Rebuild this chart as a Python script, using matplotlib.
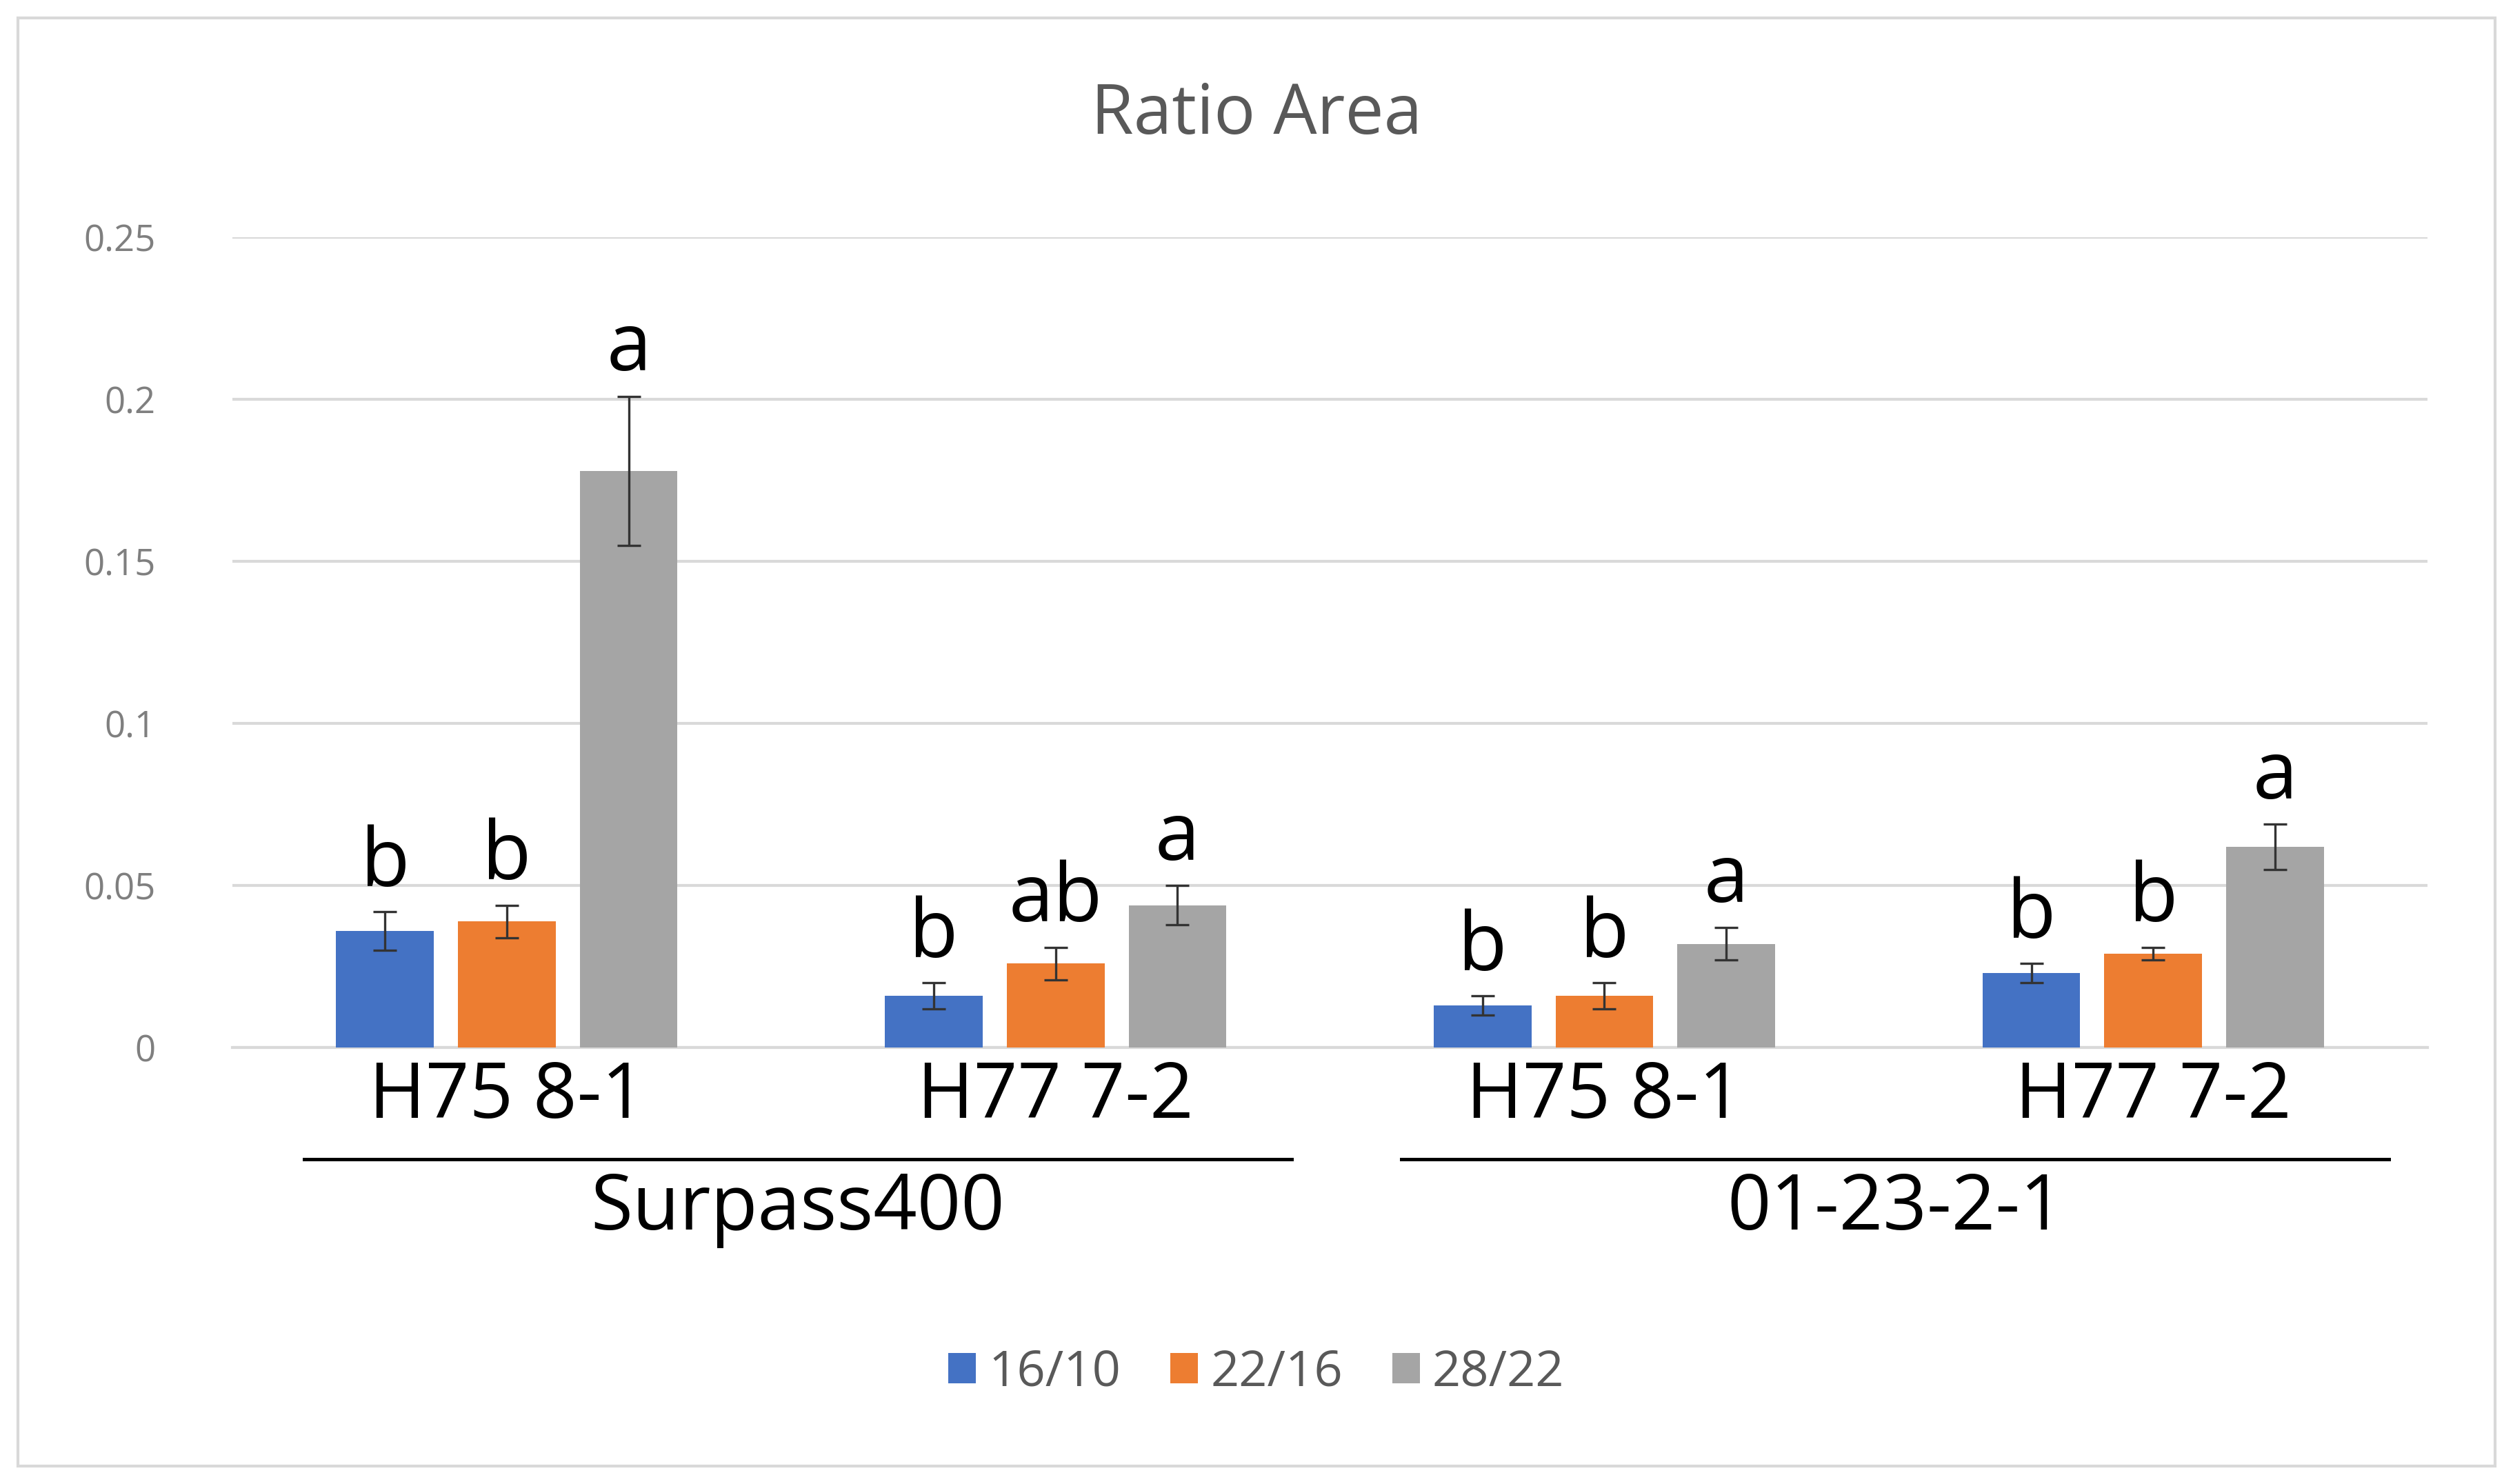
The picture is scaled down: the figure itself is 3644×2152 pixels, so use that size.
import matplotlib
matplotlib.use("Agg")
import matplotlib.pyplot as plt
from matplotlib.patches import Rectangle
import numpy as np

categories = ["H75 8-1", "H77 7-2", "H75 8-1", "H77 7-2"]
groups = ["Surpass400", "01-23-2-1"]
series = ["16/10", "22/16", "28/22"]
values = [
    [0.036, 0.016, 0.013, 0.023],
    [0.039, 0.026, 0.016, 0.029],
    [0.178, 0.044, 0.032, 0.062],
]
errors = [
    [0.006, 0.004, 0.003, 0.003],
    [0.005, 0.005, 0.004, 0.002],
    [0.023, 0.006, 0.005, 0.007],
]
letters = [
    ["b", "b", "b", "b"],
    ["b", "ab", "b", "b"],
    ["a", "a", "a", "a"],
]
colors = ["#4472C4", "#ED7D31", "#A5A5A5"]

plt.rcParams["font.family"] = ["Open Sans", "DejaVu Sans"]
fig = plt.figure(figsize=(18.22, 10.76), dpi=200)
fig.patches.append(Rectangle((0.007, 0.012), 0.986, 0.976, transform=fig.transFigure,
                             fill=False, edgecolor="#D9D9D9", lw=1.5))
ax = fig.add_axes([0.0925, 0.294, 0.8735, 0.546])

x = np.arange(len(categories))
w = 0.178
step = 0.222
for i, (vals, errs, col) in enumerate(zip(values, errors, colors)):
    pos = x + (i - 1) * step
    ax.bar(pos, vals, w, color=col, label=series[i], zorder=3,
           yerr=errs, capsize=6, error_kw=dict(ecolor="#333333", elinewidth=1.2, capthick=1.2))
    for p, v, e, t in zip(pos, vals, errs, letters[i]):
        ax.text(p, v + e + 0.002, t, ha="center", va="bottom", fontsize=42, color="black")

ax.set_xlim(-0.5, 3.5)
ax.set_ylim(0, 0.25)
ax.set_yticks([0, 0.05, 0.1, 0.15, 0.2, 0.25])
ax.set_yticklabels(["0", "0.05", "0.1", "0.15", "0.2", "0.25"])
ax.yaxis.grid(True, color="#D9D9D9", lw=1.5, zorder=0)
for s in ["top", "right", "left"]:
    ax.spines[s].set_visible(False)
ax.spines["bottom"].set_color("#D9D9D9")
ax.spines["bottom"].set_linewidth(1.5)
ax.tick_params(axis="y", length=0, labelsize=19, labelcolor="#7F7F7F", pad=40)
ax.set_xticks(x)
ax.set_xticklabels(categories, fontsize=40)
ax.tick_params(axis="x", length=0, pad=6)

# group labels with underline
for gi, g in enumerate(groups):
    x0 = 2 * gi - 0.5 + 0.13
    x1 = 2 * gi + 1.5 - 0.07
    ax.plot([x0, x1], [-0.0345, -0.0345], color="black", lw=1.8,
            clip_on=False, transform=ax.transData)
    ax.text((x0 + x1) / 2, -0.05, g, ha="center", va="center", fontsize=40)

fig.text(0.5, 0.922, "Ratio Area", ha="center", va="center", fontsize=36, color="#595959")
fig.legend(loc="center", bbox_to_anchor=(0.5, 0.075), ncol=3, frameon=False,
           fontsize=26, handlelength=0.55, handleheight=0.55, handletextpad=0.25,
           columnspacing=1.0, labelcolor="#595959")

fig.savefig("out.png", dpi=200)
